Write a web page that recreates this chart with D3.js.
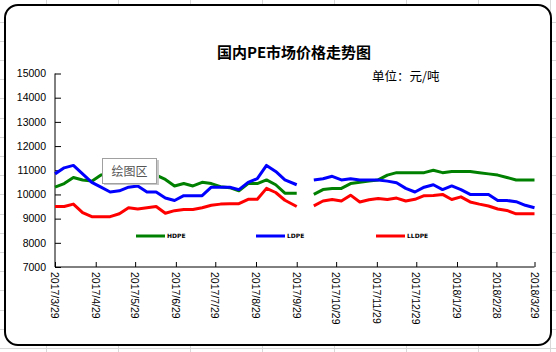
<!DOCTYPE html>
<html>
<head>
<meta charset="utf-8">
<script src="https://cdn.jsdelivr.net/npm/d3@7"></script>
<style>
  body { margin: 0; background: #fff; }
  svg { display: block; }
</style>
</head>
<body>
<div id="chart"></div>
<script>
// weekly quotes, the null row is the holiday gap
const dates = [
  "2017-03-29", "2017-04-05", "2017-04-12", "2017-04-19", "2017-04-26", "2017-05-03", "2017-05-10",
  "2017-05-17", "2017-05-24", "2017-05-31", "2017-06-07", "2017-06-14", "2017-06-21", "2017-06-28",
  "2017-07-05", "2017-07-12", "2017-07-19", "2017-07-26", "2017-08-02", "2017-08-09", "2017-08-16",
  "2017-08-23", "2017-08-30", "2017-09-06", "2017-09-13", "2017-09-20", "2017-09-29",
  "2017-10-05",
  "2017-10-12", "2017-10-19", "2017-10-26", "2017-11-02", "2017-11-09", "2017-11-16", "2017-11-23",
  "2017-11-30", "2017-12-07", "2017-12-14", "2017-12-21", "2017-12-28", "2018-01-04", "2018-01-11",
  "2018-01-18", "2018-01-25", "2018-02-01", "2018-02-08", "2018-02-15", "2018-02-22", "2018-03-01",
  "2018-03-08", "2018-03-15", "2018-03-22", "2018-03-29"
];
const hdpe = [
  10300, 10450, 10700, 10600, 10550, 10800, 10850, 10900, 10950, 10950, 10900, 10800, 10620, 10350,
  10450, 10350, 10500, 10450, 10320, 10280, 10150, 10450, 10450, 10600, 10400, 10050, 10050,
  null,
  10000, 10200, 10250, 10250, 10450, 10500, 10550, 10600, 10800, 10900, 10900, 10900, 10900, 11000,
  10900, 10950, 10950, 10950, 10900, 10850, 10800, 10700, 10600, 10600, 10600
];
const ldpe = [
  10850, 11100, 11200, 10850, 10500, 10300, 10100, 10150, 10300, 10350, 10100, 10100, 9850, 9750,
  9950, 9950, 9950, 10300, 10300, 10300, 10200, 10500, 10650, 11200, 10950, 10600, 10400,
  null,
  10600, 10650, 10750, 10600, 10650, 10600, 10600, 10600, 10550, 10480, 10250, 10100, 10300, 10400,
  10200, 10350, 10200, 10000, 10000, 10000, 9750, 9750, 9700, 9550, 9450
];
const lldpe = [
  9500, 9500, 9600, 9250, 9080, 9080, 9080, 9200, 9450, 9400, 9450, 9500, 9220, 9330,
  9380, 9380, 9450, 9550, 9600, 9620, 9620, 9800, 9800, 10250, 10080, 9760, 9500,
  null,
  9530, 9730, 9790, 9730, 9970, 9690, 9780, 9830, 9790, 9850, 9730, 9800, 9950, 9960,
  10000, 9790, 9900, 9690, 9600, 9520, 9400, 9340, 9200, 9200, 9200
];
const tickDates = [
  "2017-03-29", "2017-04-29", "2017-05-29", "2017-06-29", "2017-07-29", "2017-08-29", "2017-09-29",
  "2017-10-29", "2017-11-29", "2017-12-29", "2018-01-29", "2018-02-28", "2018-03-29"
];
const yTicks = [7000, 8000, 9000, 10000, 11000, 12000, 13000, 14000, 15000];
const seriesNames = ["HDPE", "LDPE", "LLDPE"];
const seriesColors = ["#008000", "#0000ff", "#ff0000"];

const W = 556, H = 352;
const parse = d3.timeParse("%Y-%m-%d");

const svg = d3.select("#chart").append("svg")
  .attr("width", W).attr("height", H);

// spreadsheet grid behind the chart object
const grid = svg.append("g").attr("stroke", "#d8d8d8").attr("stroke-width", 1);
d3.range(46.5, W, 72).forEach(function (gx) {
  grid.append("line").attr("x1", gx).attr("x2", gx).attr("y1", 0).attr("y2", H);
});
d3.range(21.5, H, 19.2).forEach(function (gy) {
  grid.append("line").attr("x1", 0).attr("x2", W).attr("y1", Math.round(gy) + 0.5).attr("y2", Math.round(gy) + 0.5);
});

// chart frame
svg.append("rect")
  .attr("x", 5).attr("y", 5).attr("width", 546).attr("height", 340)
  .attr("rx", 13).attr("ry", 13)
  .attr("fill", "#fff").attr("stroke", "#000").attr("stroke-width", 2);

var x = d3.scaleTime()
  .domain([parse("2017-03-29"), parse("2018-03-29")])
  .range([55, 534.5]);
var y = d3.scaleLinear()
  .domain([7000, 15000])
  .range([267, 73.5]);

// title
svg.append("text")
  .attr("x", 294).attr("y", 58)
  .attr("text-anchor", "middle")
  .style("font-family", "'Noto Sans CJK SC', sans-serif")
  .style("font-size", "15px")
  .style("font-weight", "bold")
  .text("国内PE市场价格走势图");
svg.append("text")
  .attr("x", 372).attr("y", 81)
  .style("font-family", "'Noto Sans CJK SC', sans-serif")
  .style("font-size", "12.5px")
  .text("单位：元/吨");

// Y axis, ticks inside
const yAxis = svg.append("g")
  .attr("transform", "translate(55,0)")
  .call(d3.axisRight(y).tickValues(yTicks).tickSize(6).tickFormat(""));
yAxis.select(".domain").attr("d", "M0," + y(15000) + "V" + y(7000));
svg.append("g").selectAll("text")
  .data(yTicks)
  .enter()
  .append("text")
  .attr("x", 46)
  .attr("y", (d) => y(d))
  .attr("dy", "0.36em")
  .attr("text-anchor", "end")
  .style("font-family", "'Liberation Sans', Arial, sans-serif")
  .style("font-size", "10.5px")
  .text((d) => d);

// X axis, ticks pointing up
const xAxis = svg.append("g")
  .attr("transform", "translate(0," + y(7000) + ")")
  .call(d3.axisTop(x).tickValues(tickDates.map(parse)).tickSize(5).tickSizeOuter(0).tickFormat(""));
xAxis.select(".domain").attr("d", "M55,0H" + x(parse("2018-03-29")));
svg.append("g").selectAll("text")
  .data(tickDates)
  .enter()
  .append("text")
  .attr("transform", (d) => "translate(" + x(parse(d)) + "," + (y(7000) + 5) + ") rotate(90)")
  .attr("dy", "0.36em")
  .style("font-family", "'Liberation Sans', Arial, sans-serif")
  .style("font-size", "10.5px")
  .text(function (d) {
    var p = d.split("-");
    return p[0] + "/" + (+p[1]) + "/" + (+p[2]);
  });

// lines
var line = d3.line()
  .defined((d) => d.v != null)
  .x((d) => x(d.date))
  .y((d) => y(d.v));
[hdpe, ldpe, lldpe].forEach(function (vals, i) {
  var rows = dates.map((d, j) => ({ date: parse(d), v: vals[j] }));
  svg.append("path")
    .datum(rows)
    .attr("d", line)
    .attr("fill", "none")
    .attr("stroke", seriesColors[i])
    .attr("stroke-width", 3)
    .attr("stroke-linejoin", "round");
});

// legend
const legend = svg.append("g");
seriesNames.forEach(function (name, i) {
  var lx = 136 + i * 120;
  legend.append("line")
    .attr("x1", lx).attr("x2", lx + 29)
    .attr("y1", 236).attr("y2", 236)
    .attr("stroke", seriesColors[i]).attr("stroke-width", 3);
  legend.append("text")
    .attr("x", lx + 31).attr("y", 238)
    .style("font-family", "'DejaVu Sans', sans-serif")
    .style("font-size", "6px")
    .style("font-weight", "bold")
    .text(name);
});

// "plot area" hover label left over from Excel
const tip = svg.append("g");
tip.append("rect")
  .attr("x", 104).attr("y", 160).attr("width", 55).attr("height", 25)
  .attr("fill", "#c8c8c8");
tip.append("rect")
  .attr("x", 102.5).attr("y", 158.5).attr("width", 54).attr("height", 25)
  .attr("fill", "#fff").attr("stroke", "#a0a0a0");
tip.append("text")
  .attr("x", 129.5).attr("y", 175.5)
  .attr("text-anchor", "middle")
  .attr("fill", "#555")
  .style("font-family", "'Noto Sans CJK SC', sans-serif")
  .style("font-size", "12px")
  .text("绘图区");
</script>
</body>
</html>
